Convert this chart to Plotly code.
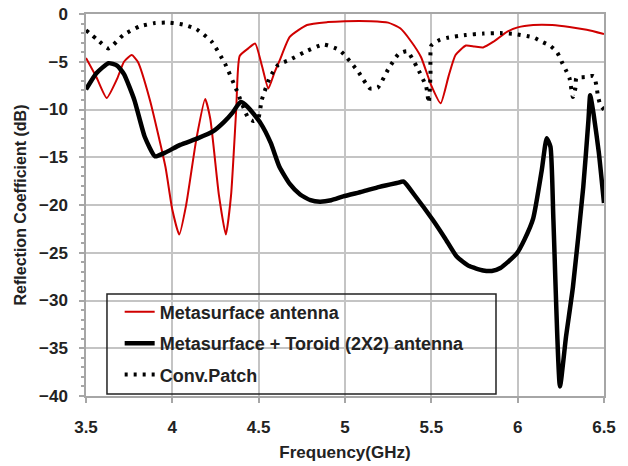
import plotly.graph_objects as go

# Metasurface antenna (red)
red_f = [3.50, 3.56, 3.62, 3.68, 3.72, 3.765, 3.80, 3.87, 3.96, 4.00, 4.04, 4.08, 4.14, 4.19,
         4.22, 4.27, 4.31, 4.34, 4.37, 4.39, 4.44, 4.48, 4.52, 4.556, 4.59, 4.623, 4.68, 4.78,
         4.90, 5.00, 5.15, 5.25, 5.32, 5.38, 5.44, 5.50, 5.554, 5.60, 5.64, 5.70, 5.75, 5.80,
         5.86, 5.94, 6.00, 6.09, 6.20, 6.30, 6.40, 6.50]
red_db = [-4.6, -6.6, -8.8, -6.8, -5.0, -4.3, -5.0, -9.0, -16.0, -20.5, -23.1, -20.0, -13.0, -8.9,
          -11.0, -19.0, -23.1, -19.0, -10.0, -4.4, -3.6, -3.1, -5.5, -7.8, -6.2, -4.8, -2.4, -1.15,
          -0.85, -0.75, -0.75, -0.9, -1.5, -2.8, -4.5, -7.5, -9.35, -6.5, -4.3, -3.3, -3.4, -3.5,
          -2.9, -1.85, -1.4, -1.15, -1.15, -1.35, -1.65, -2.1]

# Metasurface + Toroid (2X2) antenna (black)
blk_f = [3.50, 3.56, 3.63, 3.68, 3.72, 3.78, 3.84, 3.90, 3.96, 4.045, 4.15, 4.235, 4.30, 4.35,
         4.395, 4.44, 4.51, 4.57, 4.62, 4.68, 4.74, 4.80, 4.855, 4.92, 4.99, 5.10, 5.20, 5.30,
         5.34, 5.40, 5.51, 5.58, 5.647, 5.72, 5.80, 5.85, 5.90, 5.994, 6.04, 6.09, 6.14, 6.168,
         6.19, 6.207, 6.245, 6.28, 6.32, 6.38, 6.41, 6.42, 6.44, 6.47, 6.50]
blk_db = [-7.9, -6.2, -5.15, -5.4, -6.3, -9.0, -12.85, -14.9, -14.5, -13.7, -13.0, -12.3, -11.3, -10.3,
          -9.2, -9.8, -11.4, -13.5, -16.0, -17.8, -18.9, -19.5, -19.65, -19.5, -19.1, -18.6, -18.1, -17.7,
          -17.55, -18.9, -21.6, -23.5, -25.4, -26.4, -26.85, -26.9, -26.6, -25.1, -23.6, -21.4, -16.3, -13.0,
          -13.9, -21.6, -39.0, -33.8, -28.6, -18.1, -11.1, -8.5, -10.5, -14.5, -19.8]

# Conv.Patch (dotted)
dot_f = [3.50, 3.56, 3.63, 3.716, 3.81, 3.90, 3.98, 4.06, 4.14, 4.228, 4.305, 4.373, 4.44, 4.47,
         4.498, 4.518, 4.566, 4.614, 4.68, 4.77, 4.875, 4.97, 5.075, 5.145, 5.19, 5.25, 5.31, 5.36,
         5.415, 5.47, 5.485, 5.495, 5.50, 5.55, 5.59, 5.70, 5.80, 5.90, 5.985, 6.09, 6.14, 6.19,
         6.23, 6.255, 6.28, 6.30, 6.32, 6.335, 6.34, 6.39, 6.44, 6.455, 6.465, 6.48, 6.50]
dot_db = [-1.7, -2.6, -3.6, -2.2, -1.3, -0.95, -0.9, -1.1, -1.6, -2.9, -5.2, -8.0, -10.9, -11.2,
          -10.9, -9.0, -6.6, -5.3, -4.8, -3.95, -3.2, -3.8, -6.0, -7.8, -7.7, -5.8, -4.2, -3.9,
          -5.5, -7.6, -9.3, -6.5, -3.3, -2.7, -2.5, -2.2, -2.05, -2.0, -2.1, -2.45, -2.9, -3.35,
          -4.05, -5.0, -5.9, -6.7, -8.7, -7.7, -6.7, -6.6, -6.5, -7.4, -8.6, -9.6, -10.0]

x_ticks = [3.5, 4, 4.5, 5, 5.5, 6, 6.5]
x_ticklabels = ["3.5", "4", "4.5", "5", "5.5", "6", "6.5"]
y_ticks = [0, -5, -10, -15, -20, -25, -30, -35, -40]

FONT = "Liberation Sans"

fig = go.Figure()
fig.add_trace(go.Scatter(x=red_f, y=red_db, mode="lines", name="Metasurface antenna",
                         line=dict(color="#d00000", width=2, shape="spline", smoothing=0.5),
                         legendgroup="a"))
fig.add_trace(go.Scatter(x=blk_f, y=blk_db, mode="lines", name="Metasurface + Toroid (2X2) antenna",
                         line=dict(color="#000000", width=4.5, shape="spline", smoothing=0.5),
                         legendgroup="b"))
fig.add_trace(go.Scatter(x=dot_f, y=dot_db, mode="lines", name="Conv.Patch",
                         line=dict(color="#000000", width=4, dash="3px,6px", shape="spline", smoothing=0.5),
                         legendgroup="c"))

fig.update_layout(
    width=628, height=466,
    margin=dict(l=86, r=24, t=14, b=70, autoexpand=False),
    paper_bgcolor="white", plot_bgcolor="white",
    font=dict(family=FONT, color="#1a1a1a"),
    showlegend=True,
    legend=dict(x=0.065, y=0.268, xanchor="left", yanchor="top",
                bgcolor="rgba(0,0,0,0)", borderwidth=0,
                font=dict(size=18, family=FONT, weight="bold", color="#222"),
                itemwidth=30, tracegroupgap=5, traceorder="grouped"),
    shapes=[dict(type="rect", xref="paper", yref="paper", x0=0.0405, x1=0.7915, y0=0.005, y1=0.267,
                 line=dict(color="#222", width=1.5), fillcolor="rgba(0,0,0,0)", layer="above")],
)
fig.update_xaxes(
    range=[3.5, 6.5], tickvals=x_ticks, ticktext=x_ticklabels, automargin=False,
    showgrid=True, gridcolor="#c4c4c4", gridwidth=1.5,
    showline=True, linecolor="#a6a6a6", linewidth=1.5, mirror=True,
    ticks="outside", ticklen=5, tickcolor="#a6a6a6", tickwidth=1.5, ticklabelstandoff=10,
    tickfont=dict(size=17, family=FONT, weight="bold", color="#222"),
    title=dict(text="Frequency(GHz)", font=dict(size=17, family=FONT, weight="bold", color="#222"), standoff=10),
    zeroline=False,
)
fig.update_yaxes(
    range=[-40, 0], tickvals=y_ticks, automargin=False,
    showgrid=True, gridcolor="#c4c4c4", gridwidth=1.5,
    showline=True, linecolor="#a6a6a6", linewidth=1.5, mirror=True,
    ticks="outside", ticklen=5, tickcolor="#a6a6a6", tickwidth=1.5, ticklabelstandoff=8,
    minor=dict(dtick=1, ticks="outside", ticklen=3, tickcolor="#a6a6a6", showgrid=False),
    tickfont=dict(size=17, family=FONT, weight="bold", color="#222"),
    title=dict(text="Reflection Coefficient (dB)", font=dict(size=16, family=FONT, weight="bold", color="#222"), standoff=8),
    zeroline=False,
)

fig.write_html("out.html")
